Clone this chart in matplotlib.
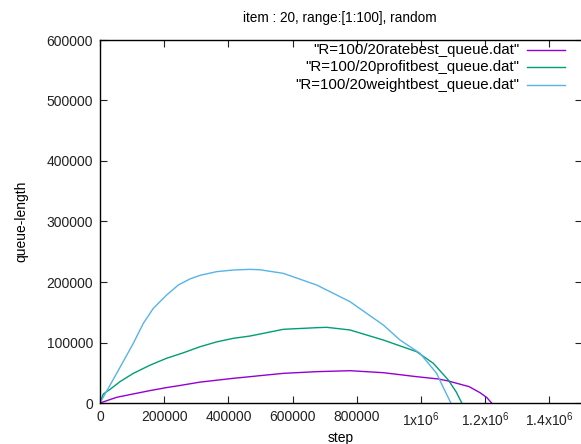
import matplotlib
matplotlib.use("Agg")
import matplotlib.pyplot as plt
from matplotlib.lines import Line2D

plt.rcParams['font.family'] = ['Liberation Sans', 'DejaVu Sans']
plt.rcParams['mathtext.fontset'] = 'custom'
plt.rcParams['mathtext.rm'] = 'Liberation Sans'
plt.rcParams['mathtext.default'] = 'regular'

title = "item : 20, range:[1:100], random"
labels = ['"R=100/20ratebest_queue.dat"',
          '"R=100/20profitbest_queue.dat"',
          '"R=100/20weightbest_queue.dat"']
colors = ['#9400d3', '#009e73', '#56b4e9']

rate_x = [0, 51900, 103800, 155800, 207700, 244000, 311500, 415400, 467300, 498400, 571100,
          675000, 778800, 882600, 986500, 1054000, 1085000, 1150000, 1184000, 1205000, 1220000]
rate_y = [0, 9400, 15000, 20500, 25500, 28500, 34500, 40800, 43500, 45200, 49000,
          51800, 53400, 50100, 43500, 39700, 36400, 27000, 17000, 9000, 0]

profit_x = [0, 10400, 31200, 62300, 103800, 155800, 207700, 259600, 311500, 363400,
            415400, 467300, 498400, 571100, 675000, 706100, 778800, 882600, 986500,
            1038400, 1085100, 1110000, 1127000]
profit_y = [0, 15000, 22500, 35300, 49000, 62500, 74000, 83000, 93000, 101000,
            106900, 110700, 114000, 121800, 124500, 125100, 120700, 104100, 84800,
            65600, 38000, 18000, 0]

weight_x = [0, 51900, 103800, 135000, 166100, 207700, 244000, 280000, 311500, 363400, 415400,
            467300, 498400, 571100, 675000, 778800, 882600, 934600, 996900, 1048800,
            1070000, 1093000]
weight_y = [0, 49000, 98600, 131700, 156500, 178500, 195000, 205000, 211000, 217100, 219800,
            220900, 220200, 214300, 195000, 167500, 128900, 104100, 82100, 49000,
            25000, 0]

xticks = [0, 200000, 400000, 600000, 800000, 1000000, 1200000, 1400000]
xticklabels = ['0', '200000', '400000', '600000', '800000',
               '1x10$^{6}$', '1.2x10$^{6}$', '1.4x10$^{6}$']
yticks = [0, 100000, 200000, 300000, 400000, 500000, 600000]
yticklabels = ['0', '100000', '200000', '300000', '400000', '500000', '600000']

fig = plt.figure(figsize=(5.81, 4.44), dpi=100)
ax = fig.add_axes([100/581, 41/444, 481.5/581, 363/444])

series = [(rate_x, rate_y), (profit_x, profit_y), (weight_x, weight_y)]
for (xs, ys), c in zip(series, colors):
    ax.plot(xs, ys, color=c, lw=1.0)

ax.set_xlim(0, 1500000)
ax.set_ylim(0, 600000)
ax.set_xticks(xticks)
ax.set_xticklabels(xticklabels)
ax.set_yticks(yticks)
ax.set_yticklabels(yticklabels)
ax.tick_params(direction='in', length=5, width=0.8, top=True, right=True,
               labelsize=10, colors='#222222', pad=5)
for s in ax.spines.values():
    s.set_linewidth(1.0)
    s.set_color('black')

ax.set_xlabel('step', fontsize=10, labelpad=2)
ax.set_ylabel('queue-length', fontsize=10, labelpad=13)
fig.text(340/581, 1 - 18/444, title, ha='center', va='center', fontsize=9.8)

# legend drawn gnuplot-style (right-justified text, sample line after)
for i, (lab, c) in enumerate(zip(labels, colors)):
    yy = 1 - (50 + i * 17.5 - 40) / 363
    ax.text((519 - 100) / 481.5, yy, lab, transform=ax.transAxes,
            ha='right', va='center', fontsize=10.8)
    ax.add_line(Line2D([(527 - 100) / 481.5, (565 - 100) / 481.5], [yy, yy],
                       transform=ax.transAxes, color=c, lw=1.0))

fig.savefig('out.png', dpi=100)
